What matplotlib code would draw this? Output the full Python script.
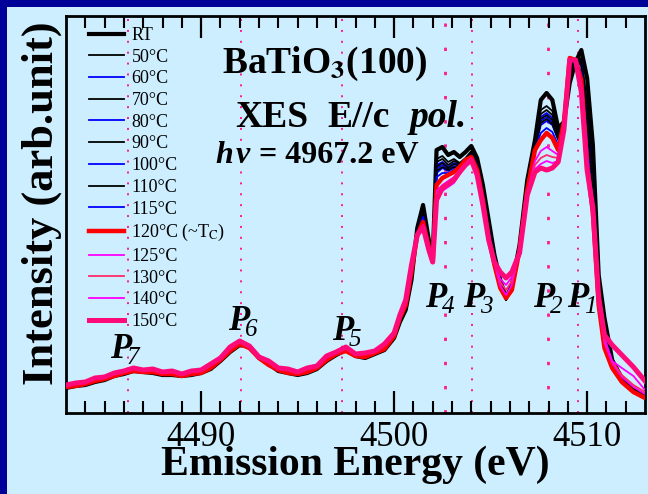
import matplotlib
matplotlib.use("Agg")
import matplotlib.pyplot as plt
from matplotlib.patches import Rectangle
from matplotlib.ticker import FixedLocator

plt.rcParams['font.family'] = ['Liberation Serif', 'DejaVu Serif']
plt.rcParams['mathtext.fontset'] = 'stix'

W, H = 648, 494
BG = '#CCEEFF'
NAVY = '#000099'
PEAKCOL = '#FF1A8C'

# ---------------- data ----------------
energy_low = [4483.0, 4483.5, 4484.0, 4484.5, 4485.0, 4485.5, 4486.0, 4486.5, 4487.0,
              4487.5, 4488.0, 4488.5, 4489.0, 4489.5, 4490.0, 4490.5, 4491.0, 4491.5,
              4492.0, 4492.5, 4493.0, 4493.5, 4494.0, 4494.5, 4495.0, 4495.5, 4496.0,
              4496.5, 4497.0, 4497.5, 4498.0, 4498.5, 4499.0, 4499.5, 4500.0]
energy_high = [4500.3, 4500.6, 4500.9, 4501.2, 4501.5, 4501.8, 4502.0, 4502.2, 4502.5,
               4502.8, 4503.1, 4503.4, 4503.7, 4504.0, 4504.3, 4504.6, 4504.9, 4505.2,
               4505.5, 4505.8, 4506.1, 4506.5, 4506.9, 4507.3, 4507.6, 4507.9, 4508.2,
               4508.5, 4508.8, 4509.1, 4509.4, 4509.7, 4510.0, 4510.3, 4510.6, 4510.9,
               4511.3, 4511.8, 4512.4, 4513.0]

low_rt = [25, 27, 28, 31, 33, 37, 39, 42, 41, 40, 38, 38, 37, 38, 40, 44, 52, 61, 68, 67,
          55, 49, 42, 40, 38, 40, 44, 52, 58, 63, 57, 55, 59, 63, 75]
low_mid = [26, 27, 29, 32, 34, 37, 40, 42, 41, 41, 39, 39, 37, 39, 40, 45, 53, 62, 69, 65,
           55, 48, 43, 40, 39, 41, 45, 53, 59, 62, 57, 56, 60, 64, 77]
low_hot = [28, 30, 31, 35, 36, 40, 42, 45, 43, 44, 41, 42, 39, 42, 43, 49, 55, 66, 72, 67,
           56, 52, 45, 44, 41, 45, 47, 57, 61, 66, 59, 60, 62, 69, 80]

rt_high = [91, 103, 133, 185, 208, 173, 155, 263, 266, 258, 261, 256, 261, 267, 255, 228, 193, 158, 133, 115,
           128, 168, 233, 273, 313, 320, 313, 285, 291, 330, 351, 363, 335, 268, 138, 95, 53, 35, 23, 16]
c50_high = [92, 105, 136, 183, 204, 171, 154, 254, 257, 251, 254, 250, 255, 262, 250, 224, 189, 156, 130, 114,
            125, 166, 230, 268, 303, 307, 302, 281, 291, 338, 353, 355, 310, 240, 128, 86, 50, 33, 22, 16]
c60_high = [93, 105, 137, 182, 202, 170, 153, 248, 251, 246, 250, 248, 253, 260, 249, 222, 187, 154, 128, 114,
            125, 166, 229, 266, 296, 300, 295, 278, 291, 342, 353, 352, 300, 228, 124, 83, 49, 33, 22, 16]
c70_high = [92, 104, 136, 182, 203, 169, 153, 251, 254, 248, 252, 249, 254, 261, 249, 223, 188, 155, 129, 113,
            125, 166, 229, 267, 299, 303, 298, 279, 291, 340, 353, 354, 305, 234, 126, 84, 50, 33, 22, 16]
c80_high = [93, 106, 138, 181, 200, 168, 152, 244, 248, 244, 247, 246, 252, 259, 248, 221, 186, 153, 128, 114,
            125, 165, 228, 265, 292, 296, 291, 276, 291, 344, 353, 350, 295, 222, 120, 81, 48, 33, 21, 16]
c90_high = [93, 105, 138, 181, 201, 168, 152, 246, 250, 245, 249, 247, 253, 260, 248, 222, 187, 154, 128, 113,
            125, 165, 228, 266, 294, 298, 293, 277, 291, 343, 353, 351, 298, 226, 122, 82, 49, 33, 21, 16]
c100_high = [94, 106, 139, 180, 198, 167, 152, 240, 245, 242, 245, 245, 252, 258, 247, 220, 184, 152, 127, 114,
             125, 165, 227, 264, 288, 292, 288, 273, 291, 346, 354, 347, 290, 218, 117, 79, 48, 32, 21, 15]
c110_high = [94, 106, 139, 180, 199, 167, 152, 242, 246, 243, 246, 245, 252, 258, 247, 220, 185, 152, 127, 113,
             125, 165, 227, 264, 290, 294, 289, 274, 291, 345, 354, 348, 292, 220, 118, 80, 48, 32, 21, 15]
c115_high = [94, 107, 140, 179, 196, 166, 151, 236, 240, 240, 243, 245, 252, 257, 245, 217, 180, 150, 126, 114,
             124, 164, 225, 263, 280, 285, 281, 268, 291, 349, 354, 340, 270, 200, 110, 76, 47, 32, 21, 15]
c120_high = [95, 108, 141, 178, 191, 165, 151, 228, 235, 238, 241, 246, 253, 256, 243, 213, 175, 148, 125, 115,
             123, 163, 223, 263, 273, 280, 275, 263, 291, 355, 353, 333, 248, 200, 108, 65, 45, 31, 21, 15]
c125_high = [96, 110, 145, 177, 188, 164, 151, 222, 228, 232, 236, 243, 250, 255, 240, 210, 174, 149, 127, 118,
             128, 162, 221, 252, 262, 266, 262, 258, 289, 353, 354, 328, 246, 203, 112, 70, 50, 36, 26, 19]
c130_high = [97, 111, 146, 176, 187, 164, 151, 219, 226, 230, 234, 242, 249, 254, 240, 209, 174, 150, 131, 123,
             132, 162, 220, 248, 255, 258, 256, 255, 288, 353, 354, 326, 246, 204, 113, 72, 52, 38, 28, 21]
c140_high = [97, 112, 147, 177, 186, 163, 151, 216, 222, 226, 230, 239, 247, 253, 238, 208, 173, 150, 134, 128,
             136, 161, 219, 244, 249, 252, 250, 252, 286, 352, 354, 324, 247, 205, 114, 75, 52, 45, 37, 23]
c150_high = [98, 113, 148, 178, 186, 163, 151, 213, 225, 229, 233, 241, 248, 253, 238, 208, 173, 151, 141, 135,
             141, 160, 218, 241, 245, 243, 245, 251, 283, 353, 353, 321, 243, 205, 116, 78, 68, 58, 46, 32]

labels = ['RT', '50°C', '60°C', '70°C', '80°C', '90°C', '100°C', '110°C', '115°C',
          '120°C (~T$_{\\mathrm{C}}$)', '125°C', '130°C', '140°C', '150°C']
low_parts = [low_rt, low_mid, low_mid, low_mid, low_mid, low_mid, low_mid, low_mid, low_mid,
             low_mid, low_hot, low_hot, low_hot, low_hot]
high_parts = [rt_high, c50_high, c60_high, c70_high, c80_high, c90_high, c100_high, c110_high,
              c115_high, c120_high, c125_high, c130_high, c140_high, c150_high]
colors = ['black', 'black', '#0000FF', 'black', '#0000FF', 'black', '#0000FF', 'black', '#0000FF',
          '#FF0000', '#FF00FF', '#FF2A6A', '#FF00FF', '#FF0A7A']
widths = [3.0, 1.3, 1.3, 1.3, 1.3, 1.3, 1.3, 1.3, 1.3, 3.2, 1.3, 1.3, 1.3, 3.6]

peak_names = ['1', '2', '3', '4', '5', '6', '7']
peak_energies = [4509.55, 4507.95, 4504.05, 4502.65, 4497.3, 4492.05, 4486.2]
peak_dashed = [False, True, False, True, False, False, False]

# ---------------- figure ----------------
fig = plt.figure(figsize=(W / 100, H / 100), dpi=100, facecolor=BG)
fig.patches.append(Rectangle((0, 1 - 7 / H), 1, 7 / H, transform=fig.transFigure,
                             facecolor=NAVY, edgecolor='none', zorder=-5))
fig.patches.append(Rectangle((0, 0), 7 / W, 1, transform=fig.transFigure,
                             facecolor=NAVY, edgecolor='none', zorder=-5))

ax = fig.add_axes([66 / W, 1 - 413 / H, (645 - 66) / W, (413 - 16) / H])
ax.set_facecolor(BG)

for e, dashed in zip(peak_energies, peak_dashed):
    if dashed:
        ax.axvline(e, color=PEAKCOL, lw=2.0, ls=(0, (1.2, 7.5)), zorder=1, dash_capstyle='butt')
    else:
        ax.axvline(e, color=PEAKCOL, lw=1.4, ls=(0, (1.0, 4.6)), zorder=1, dash_capstyle='butt')

handles = []
for lab, lo, hi, c, lw in zip(labels, low_parts, high_parts, colors, widths):
    ln, = ax.plot(energy_low + energy_high, lo + hi, color=c, lw=lw, zorder=3,
                  solid_joinstyle='round')
    handles.append(ln)

ax.set_xlim(4483, 4513)
ax.set_ylim(0, 397)
ax.xaxis.set_major_locator(FixedLocator([4490, 4500, 4510]))
ax.xaxis.set_minor_locator(FixedLocator(list(range(4484, 4513))))
ax.set_yticks([])
ax.tick_params(axis='x', which='major', direction='in', length=16, width=1.6,
               top=True, labelsize=25, pad=6)
ax.tick_params(axis='x', which='minor', direction='in', length=8.5, width=1.5, top=True)
for s in ax.spines.values():
    s.set_linewidth(2.0)

ax.legend(handles, labels, loc='upper left', bbox_to_anchor=(89 / W, 1 - 27 / H),
          bbox_transform=fig.transFigure, frameon=False, fontsize=13,
          handlelength=1.95, handletextpad=0.4, labelspacing=0.26,
          borderpad=0, borderaxespad=0)


def ftext(x, y, s, **kw):
    fig.text(x / W, 1 - y / H, s, **kw)


ftext(222, 73, 'BaTiO$_{\\mathbf{3}}$(100)', fontsize=27, fontweight='bold',
      ha='left', va='baseline')
ftext(235, 127, 'XES', fontsize=27, fontweight='bold', ha='left', va='baseline')
ftext(327, 127, 'E//c', fontsize=27, fontweight='bold', ha='left', va='baseline')
ftext(410, 127, 'pol.', fontsize=27, fontweight='bold', style='italic', ha='left', va='baseline')
ftext(215, 163, 'h', fontsize=23, fontweight='bold', style='italic', ha='left', va='baseline')
ftext(236, 163, 'ν', fontsize=23, fontweight='bold', style='italic', ha='left', va='baseline')
ftext(259, 163, '= 4967.2 eV', fontsize=23, fontweight='bold', ha='left', va='baseline')

peak_label_pos = {'7': (110, 358), '6': (228, 330), '5': (332, 340), '4': (425, 307),
                  '3': (463, 307), '2': (533, 307), '1': (567, 307)}
for name in peak_names:
    px, py = peak_label_pos[name]
    ftext(px, py, 'P', fontsize=25, style='italic', fontweight='bold', ha='left', va='baseline')
    ftext(px + 17, py + 6, name, fontsize=18, style='italic', ha='left', va='baseline')

ftext(355, 475, 'Emission Energy (eV)', fontsize=30, fontweight='bold',
      ha='center', va='baseline')
ftext(42, 203, 'Intensity (arb.unit)', fontsize=32, fontweight='bold',
      ha='center', va='center', rotation=90)

fig.savefig('out.png', dpi=100, facecolor=BG)
